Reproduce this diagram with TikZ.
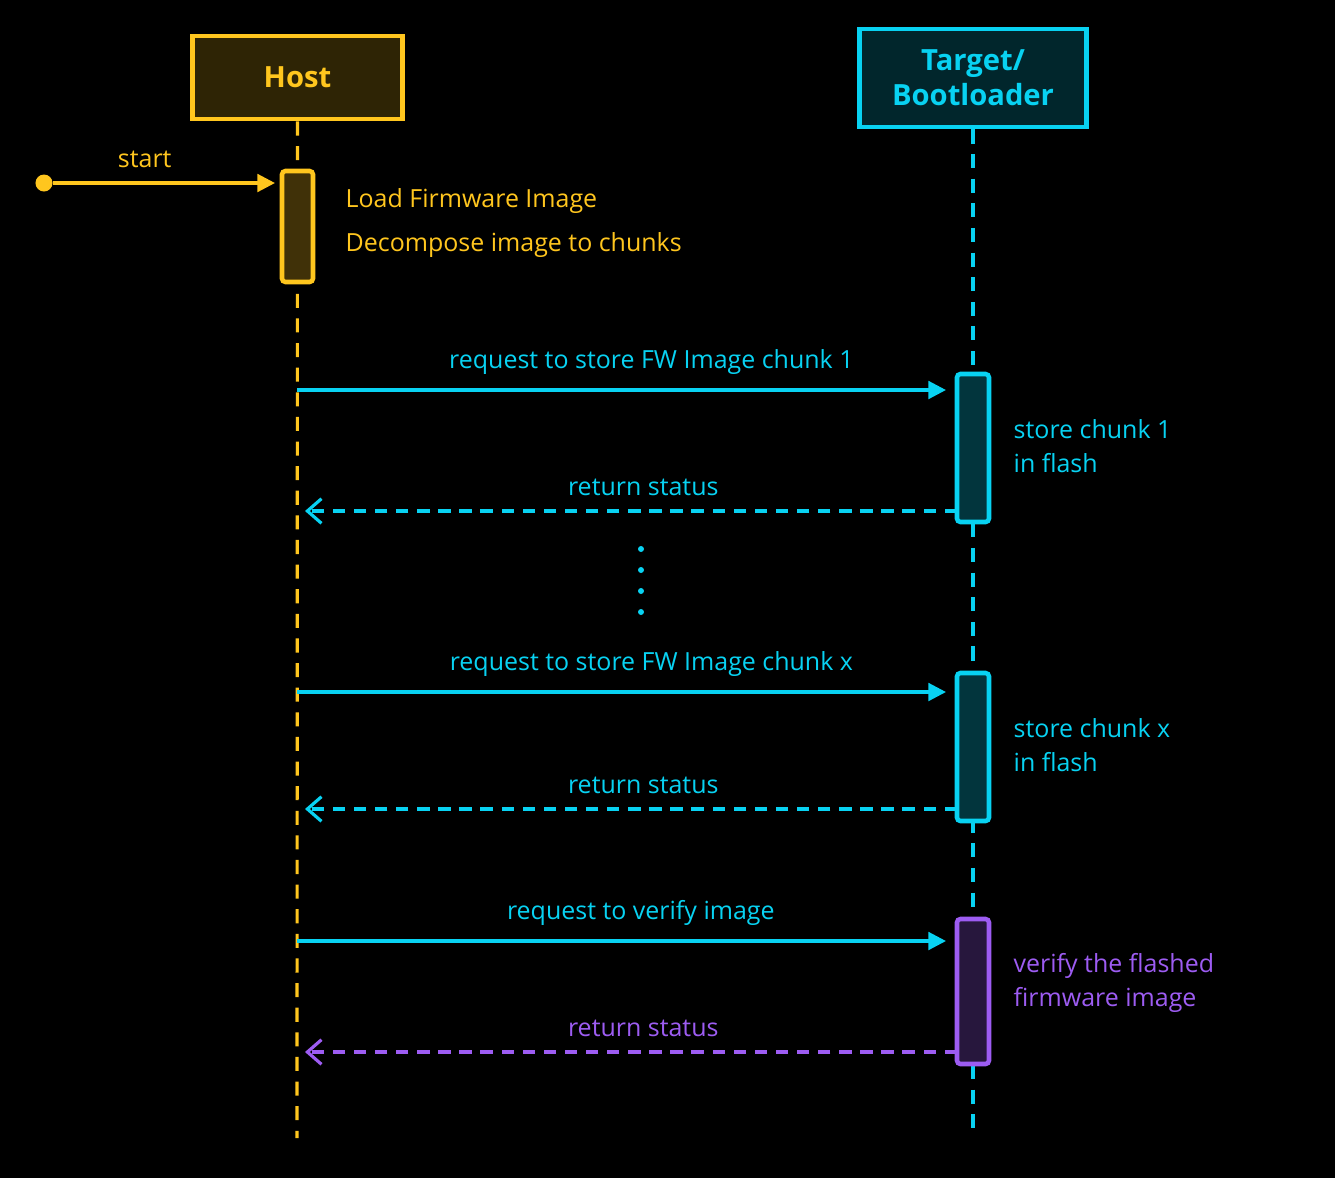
\documentclass[tikz,border=0pt]{standalone}
\usepackage{fontspec}
\setmainfont{Open Sans}
\usetikzlibrary{arrows.meta,positioning}
\definecolor{hostc}{HTML}{FFC61E}
\definecolor{tgtc}{HTML}{08D2F2}
\definecolor{verc}{HTML}{9D5CF2}
\tikzset{
  head/.style={draw=#1,line width=1.4pt,fill=#1!18!black,text=#1,font=\fontsize{8.3}{10}\selectfont\bfseries,align=center,inner sep=0pt},
  life/.style={#1,line width=0.9pt,dash pattern=on 4pt off 3pt},
  act/.style={draw=#1,line width=1.3pt,fill=#1!25!black,rounded corners=1pt},
  msg/.style={#1,line width=0.9pt,-{Triangle[length=5pt,width=5pt]}},
  ret/.style={#1,line width=0.9pt,dash pattern=on 3.5pt off 2.5pt,-{Straight Barb[length=4pt,width=7pt]}},
  lbl/.style={text=#1,font=\fontsize{7.1}{8}\selectfont,inner sep=0pt},
  side/.style={text=#1,font=\fontsize{7.1}{8}\selectfont,inner sep=0pt,anchor=west,align=left}
}
\begin{document}
\begin{tikzpicture}[x=0.01cm,y=-0.01cm]
\fill[black] (0,0) rectangle (1335,1178);
\useasboundingbox (0,0) rectangle (1335,1178);
% heads
\node[head=hostc,text width=1.9cm,minimum width=2.09cm,minimum height=0.83cm] (host) at (297.5,77.5) {Host};
\node[head=tgtc,text width=2.1cm,minimum width=2.26cm,minimum height=0.98cm] (tgt) at (973,78) {Target/\\Bootloader};
\coordinate (hostend) at (297,1138);
\coordinate (tgtend) at (973,1138);
\draw[life=hostc] (host.south) -- (hostend);
\draw[life=tgtc] (tgt.south) -- (tgtend);
% activations
\draw[act=hostc] (282,171) rectangle (313,282);
\draw[act=tgtc] (957,374) rectangle (989,522);
\draw[act=tgtc] (957,673) rectangle (989,821);
\draw[act=verc] (957,919) rectangle (989,1064);
% start
\node[circle,fill=hostc,inner sep=0pt,minimum size=0.17cm] (dot) at (44,183) {};
\coordinate (starttip) at (275,183);
\draw[msg=hostc] (dot) -- node[lbl=hostc,above=4pt,xshift=-5.5pt]{start} (starttip);
\node[side=hostc] (load) at (345,201) {Load Firmware Image};
\node[side=hostc] (decomp) at (345,245) {Decompose image to chunks};
% messages
\foreach \n/\ya/\yr/\txt in {one/390/511/1, ex/692/809/x}{
  \coordinate (a\n) at (297,\ya); \coordinate (b\n) at (946,\ya);
  \coordinate (c\n) at (957,\yr); \coordinate (d\n) at (305,\yr);
  \draw[msg=tgtc] (a\n) -- node[lbl=tgtc,above=4pt,xshift=8.5pt]{request to store FW Image chunk \txt} (b\n);
  \draw[ret=tgtc] (c\n) -- node[lbl=tgtc,above=4pt,xshift=3.5pt]{return status} (d\n);
}
\node[side=tgtc] (s1) at (1013,429) {store chunk 1};
\node[side=tgtc] (f1) at (1013,463) {in flash};
\node[side=tgtc] (sx) at (1013,728) {store chunk x};
\node[side=tgtc] (fx) at (1013,762) {in flash};
\foreach \y in {549,570,591,612} \fill[tgtc] (641,\y) circle (3);
\coordinate (av) at (297,941); \coordinate (bv) at (946,941);
\coordinate (cv) at (957,1052); \coordinate (dv) at (305,1052);
\draw[msg=tgtc] (av) -- node[lbl=tgtc,above=4pt,xshift=5.5pt]{request to verify image} (bv);
\draw[ret=verc] (cv) -- node[lbl=verc,above=4pt,xshift=3.5pt]{return status} (dv);
\node[side=verc] (v1) at (1013,966) {verify the flashed};
\node[side=verc] (v2) at (1013,1000) {firmware image};
\end{tikzpicture}
\end{document}
